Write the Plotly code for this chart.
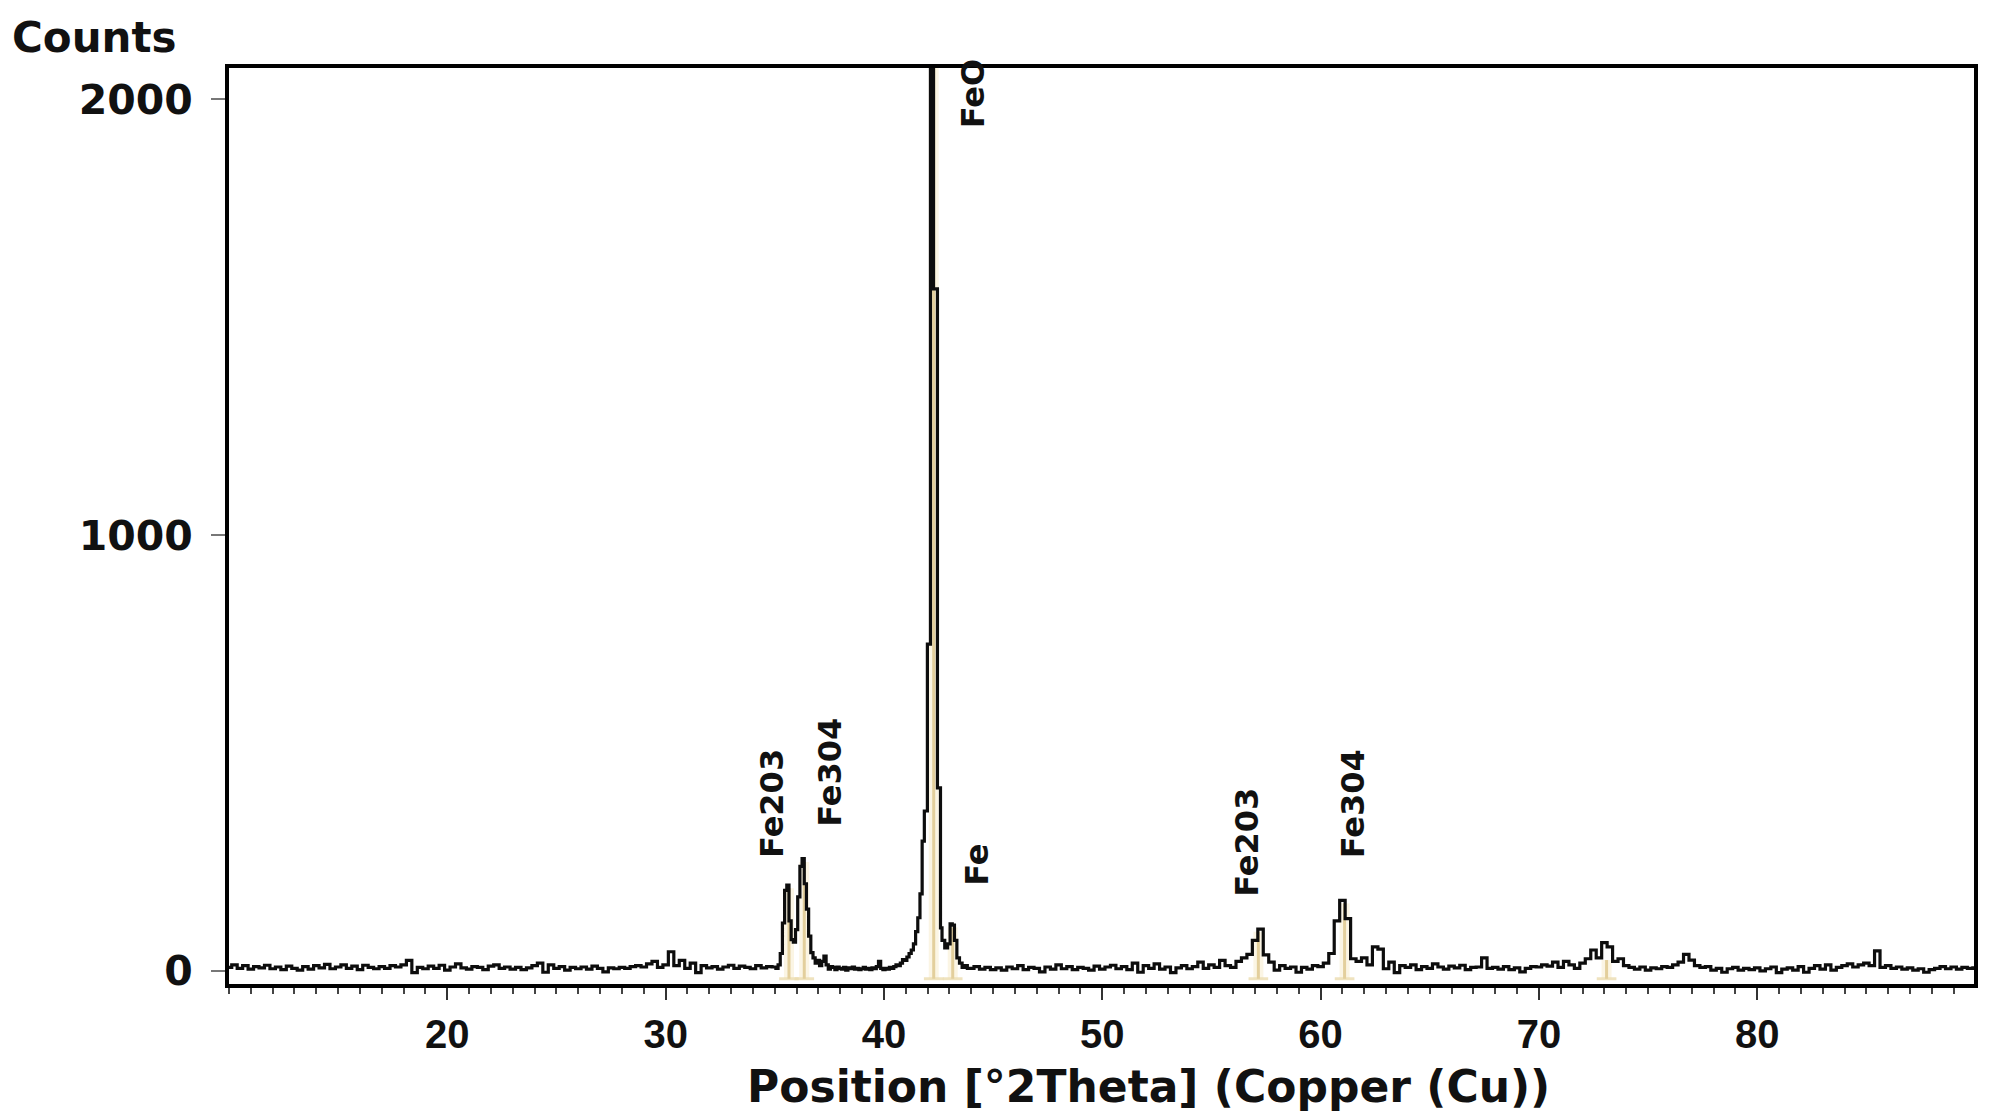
import numpy as np
import plotly.graph_objects as go

# ---------------- data ----------------
# baseline 10.00 .. 34.75, step 0.25
seg_a_start, seg_a_step = 10.0, 0.25
seg_a_counts = [8, 14, 6, 12, 4, 10, 7, 13, 5, 9, 3, 11, 6, 2, 10, 4, 12, 7, 15, 5,
                9, 14, 6, 11, 3, 13, 8, 5, 10, 6, 12, 9, 14, 24, -4, 8, 5, 11, 6, 13,
                2, 9, 16, 7, 4, 10, 8, 3, 11, 14, 6, 9, 4, 8, 3, 7, 12, 18, -3, 14,
                6, 10, 2, 8, 5, 9, 4, 11, 6, -2, 7, 5, 8, 6, 10, 12, 9, 16, 22, 8,
                14, 44, 12, 24, 6, 18, -4, 12, 7, 10, 4, 9, 13, 6, 11, 8, 5, 12, 7, 10]

# 35.0 .. 41.9, step 0.1
seg_b_start, seg_b_step = 35.0, 0.1
seg_b_counts = [9, 6, 14, 40, 110, 185, 197, 115, 72, 66, 95, 170, 240, 258, 200, 142, 80, 42, 30, 18,
                24, 12, 22, 34, 14, 4, 10, 8, 3, 9, 6, 4, 8, 2, 7, 5, 9, 4, 6, 3,
                5, 8, 4, 6, 3, 7, 5, 10, 22, 6, 3, 6, 4, 8, 6, 10, 14, 12, 18, 26,
                24, 32, 40, 48, 62, 90, 122, 177, 298, 367]

# main FeO / Fe region
peak_theta = [41.98, 42.00, 42.12, 42.14, 42.26, 42.28, 42.44, 42.46, 42.58, 42.60,
              42.72, 42.85, 42.98, 43.08, 43.18, 43.28, 43.40, 43.52, 43.64, 43.76, 43.88]
peak_counts = [367, 750, 750, 2400, 2400, 1565, 1565, 420, 420, 99,
               70, 53, 62, 108, 105, 70, 30, 18, 8, 12, 6]

# 44.00 .. 90.00, step 0.25
seg_c_start, seg_c_step = 44.0, 0.25
seg_c_counts = [6, 10, 4, 8, 3, 7, 2, 9, 5, 12, 3, 8, 6, -2, 9, 4, 14, 5, 10, 3,
                8, 6, 2, 11, 4, 9, 13, 5, 10, 3, 18, -3, 12, 6, 16, 4, 9, -4, 7, 12,
                5, 10, 20, 6, 14, 8, 24, 12, 8, 22, 30, 38, 70, 96, 37, 20, 2, 12, 6, 9,
                -3, 8, 4, 12, 10, 18, 40, 115, 162, 120, 28, 22, 30, 14, 55, 50, 5, 20, -4, 12,
                8, 14, 3, 10, 6, 16, 9, 4, 11, 7, 13, 3, 8, 9, 30, 6, 8, 4, 10, 3,
                7, -2, 6, 10, 9, 14, 11, 20, 8, 22, 14, 6, 18, 28, 48, 30, 65, 55, 22, 28,
                12, 8, 4, 9, 2, 7, 5, 10, 8, 14, 20, 38, 25, 12, 8, 10, 2, 6, -3, 5,
                8, 2, 6, 3, 7, 0, 5, 9, -4, 4, 7, 2, 10, -3, 6, 12, 4, 14, 2, 8,
                12, 16, 9, 14, 18, 12, 46, 8, 12, 6, 9, 4, 7, 2, 5, -3, 3, 6, 10, 5,
                9, 4, 8, 6, 7]

# reference pattern sticks
stick_theta = [35.65, 36.35, 42.28, 43.15, 57.15, 61.10, 73.10]
stick_height = [190, 250, 2400, 100, 90, 155, 25]

# peak labels
label_text = ["Fe203", "Fe304", "Fe", "FeO", "Fe203", "Fe304"]
label_theta = [34.90, 37.55, 44.25, 44.08, 56.60, 61.48]
label_base = [255, 326, 190, 1928, 165, 255]

x_range = [10.0, 89.93]
y_range = [-30, 2072]
x_tickvals = [20, 30, 40, 50, 60, 70, 80]
y_tickvals = [0, 1000, 2000]

# ---------------- build ----------------
theta = (list(seg_a_start + seg_a_step * np.arange(len(seg_a_counts)))
         + list(seg_b_start + seg_b_step * np.arange(len(seg_b_counts)))
         + peak_theta
         + list(seg_c_start + seg_c_step * np.arange(len(seg_c_counts))))
counts = seg_a_counts + seg_b_counts + peak_counts + seg_c_counts

fig = go.Figure()

for xs, h in zip(stick_theta, stick_height):
    fig.add_trace(go.Scatter(x=[xs, xs], y=[-18, h], mode="lines",
                             line=dict(color="rgba(246,232,196,0.45)", width=10),
                             hoverinfo="skip", showlegend=False))
    fig.add_trace(go.Scatter(x=[xs - 0.45, xs + 0.45], y=[-18, -18], mode="lines",
                             line=dict(color="rgba(235,220,175,0.8)", width=3),
                             hoverinfo="skip", showlegend=False))
for xs, h in zip(stick_theta, stick_height):
    fig.add_trace(go.Scatter(x=[xs, xs], y=[-18, h], mode="lines",
                             line=dict(color="#E3CF9C", width=3),
                             hoverinfo="skip", showlegend=False))

fig.add_trace(go.Scatter(x=theta, y=counts, mode="lines",
                         line=dict(color="#0d0d0d", width=3.2, shape="hvh"),
                         showlegend=False))

label_font = dict(family="DejaVu Sans, Verdana, sans-serif",
                  size=32, color="#111111", weight="bold")
for t, xv, yv in zip(label_text, label_theta, label_base):
    fig.add_annotation(x=xv, y=yv, text=t, textangle=-90, showarrow=False,
                       xanchor="center", yanchor="bottom", font=label_font)

fig.add_annotation(xref="paper", yref="paper", x=-0.1255, y=1.0338, text="Counts",
                   showarrow=False, xanchor="left", yanchor="middle",
                   font=dict(family="DejaVu Sans, Verdana, sans-serif", size=42,
                             color="#111111", weight="bold"))
fig.add_annotation(xref="paper", yref="paper", x=0.5272, y=-0.1114,
                   text="Position [°2Theta] (Copper (Cu))", showarrow=False,
                   xanchor="center", yanchor="middle",
                   font=dict(family="DejaVu Sans, Verdana, sans-serif", size=44,
                             color="#111111", weight="bold"))

fig.update_xaxes(range=x_range, tickvals=x_tickvals, ticktext=[str(v) for v in x_tickvals],
                 showgrid=False, zeroline=False, showline=True, linecolor="#000000",
                 linewidth=4, mirror=True, ticks="outside", ticklen=12, tickwidth=2,
                 tickcolor="#333333",
                 minor=dict(dtick=1, tick0=0, ticks="outside", ticklen=6, tickwidth=2,
                            tickcolor="#444444", showgrid=False),
                 tickfont=dict(family="Liberation Sans, Arial, sans-serif",
                               size=40, color="#111111", weight="bold"))
fig.update_yaxes(range=y_range, tickvals=y_tickvals, ticktext=[str(v) for v in y_tickvals],
                 showgrid=False, zeroline=False, showline=True, linecolor="#000000",
                 linewidth=4, mirror=True, ticks="outside", ticklen=14, tickwidth=2,
                 tickcolor="#777777", ticklabelstandoff=10,
                 tickfont=dict(family="DejaVu Sans, Verdana, sans-serif", size=41,
                               color="#111111", weight="bold"))

fig.update_layout(width=1999, height=1118, margin=dict(l=229, r=25, t=68, b=134),
                  plot_bgcolor="white", paper_bgcolor="white")

fig.write_html("out.html", config={"displayModeBar": False},
               post_script="document.body.style.margin='0px';")
